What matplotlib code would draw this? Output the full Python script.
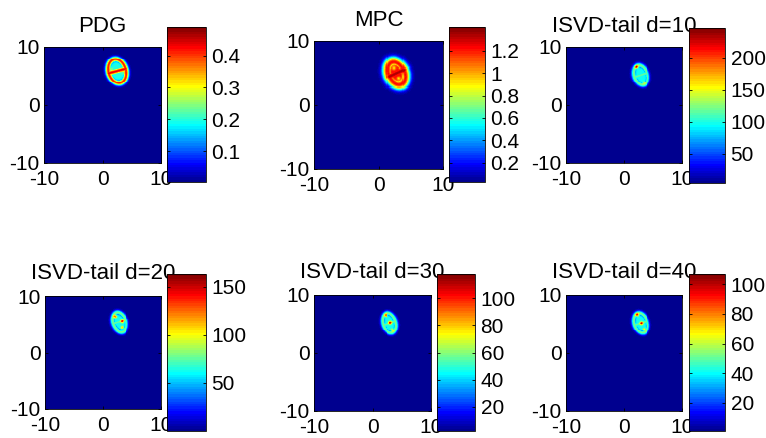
import matplotlib
matplotlib.use("Agg")
import matplotlib.pyplot as plt
import numpy as np
from matplotlib.colors import ListedColormap

plt.rcParams["font.family"] = ["Liberation Sans", "DejaVu Sans"]
plt.rcParams["font.size"] = 15
plt.rcParams["axes.unicode_minus"] = False

# ---- values ----
titles = ["PDG", "MPC", "ISVD-tail d=10", "ISVD-tail d=20", "ISVD-tail d=30", "ISVD-tail d=40"]
c_min = [0.003, 0.03, 4, 0, 2, 1]
c_max = [0.49, 1.41, 247, 163, 118, 107]
cbar_ticks = [
    [0.1, 0.2, 0.3, 0.4],
    [0.2, 0.4, 0.6, 0.8, 1.0, 1.2],
    [50, 100, 150, 200],
    [50, 100, 150],
    [20, 40, 60, 80, 100],
    [20, 40, 60, 80, 100],
]
cbar_labels = [
    ["0.1", "0.2", "0.3", "0.4"],
    ["0.2", "0.4", "0.6", "0.8", "1", "1.2"],
    ["50", "100", "150", "200"],
    ["50", "100", "150"],
    ["20", "40", "60", "80", "100"],
    ["20", "40", "60", "80", "100"],
]
axis_ticks = [-10, 0, 10]

# "8"-shaped blob of each panel: oval ring + middle bar + filled holes + hot/cold spots
# (lengths in data units, tilt in degrees (top leaning left), levels as fraction of colour range)
blob_x = [2.45, 2.8, 2.9, 2.85, 2.9, 2.9]
blob_y = [5.9, 5.0, 5.2, 5.3, 5.2, 5.2]
blob_a = [1.45, 1.25, 1.1, 1.1, 1.1, 1.1]
blob_b = [2.1, 1.9, 1.75, 1.75, 1.75, 1.75]
blob_tilt = [15, 25, 18, 18, 18, 18]
ring_w = [0.34, 0.58, 0.32, 0.3, 0.3, 0.3]
ring_level = [0.84, 0.86, 0.48, 0.48, 0.48, 0.48]
bar_level = [0.88, 0.95, 0.46, 0.46, 0.46, 0.46]
hole_level = [0.4, 0.86, 0.38, 0.38, 0.38, 0.38]
spot_x = [[1.5, 3.5], [2.42, 3.18], [2.2, 3.4], [2.1, 3.3, 3.3], [2.3, 3.1, 3.5], [2.3, 3.0, 3.5]]
spot_y = [[6.2, 5.6], [5.82, 4.18], [6.6, 3.9], [6.3, 5.4, 4.3], [6.5, 5.3, 4.0], [6.6, 5.2, 4.1]]
spot_level = [[0.12, 0.12], [-0.2, -0.22], [0.5, 0.2], [0.48, 0.48, 0.3], [0.48, 0.5, 0.3],
              [0.5, 0.48, 0.3]]

# ---- layout, pixel boxes (left, top, right, bottom) ----
W, H = 766, 438
ax_boxes = [(44, 47, 161, 163), (314, 41, 443, 169), (566, 47, 682, 163),
            (45, 296, 161, 409), (314, 295, 431, 411), (566, 295, 682, 411)]
cb_boxes = [(167, 27, 206, 182), (449, 27, 485, 182), (689, 28, 725, 183),
            (167, 274, 206, 431), (437, 274, 475, 431), (689, 274, 725, 431)]
title_pad = [10.8, 10.8, 10.8, 12.5, 12.5, 12.5]


def matlab_jet(m=64):
    n = int(np.ceil(m / 4))
    u = np.concatenate([np.arange(1, n + 1) / n, np.ones(n - 1), np.arange(n, 0, -1) / n])
    g = int(np.ceil(n / 2)) - (m % 4 == 1) + np.arange(1, len(u) + 1)
    r = g + n
    b = g - n
    J = np.zeros((m, 3))
    J[r[r <= m] - 1, 0] = u[r <= m]
    J[g[g <= m] - 1, 1] = u[g <= m]
    J[b[b >= 1] - 1, 2] = u[b >= 1]
    return ListedColormap(J)


def to_fig(box):
    l, t, r, b = box
    return [l / W, (H - b) / H, (r - l) / W, (b - t) / H]


grid = np.linspace(-10, 10, 121)
X, Y = np.meshgrid(grid, grid)


def panel_field(i):
    th = np.deg2rad(blob_tilt[i])
    dx, dy = X - blob_x[i], Y - blob_y[i]
    u = dx * np.cos(th) + dy * np.sin(th)
    v = -dx * np.sin(th) + dy * np.cos(th)
    a, b, w = blob_a[i], blob_b[i], ring_w[i]
    rho = np.sqrt((u / a) ** 2 + (v / b) ** 2) + 1e-9
    dist = np.hypot(u, v) * (1 - 1 / rho)
    ring = ring_level[i] * np.exp(-dist ** 2 / (2 * w ** 2))
    over = np.maximum(np.abs(u) - a, 0)
    bar = bar_level[i] * np.exp(-(v ** 2 + over ** 2) / (2 * w ** 2))
    hole = hole_level[i] / (1 + np.exp((rho - 0.85) / 0.08))
    z = np.maximum(np.maximum(ring, bar), hole)
    for sx, sy, sp in zip(spot_x[i], spot_y[i], spot_level[i]):
        z = z + sp * np.exp(-((X - sx) ** 2 + (Y - sy) ** 2) / (2 * 0.2 ** 2))
    z = np.clip(z, 0, 1)
    return c_min[i] + z * (c_max[i] - c_min[i])


cmap = matlab_jet(64)
fig = plt.figure(figsize=(W / 100, H / 100), dpi=100)

for i in range(6):
    ax = fig.add_axes(to_fig(ax_boxes[i]))
    im = ax.imshow(panel_field(i), extent=[-10, 10, -10, 10], origin="lower",
                   cmap=cmap, vmin=c_min[i], vmax=c_max[i],
                   interpolation="nearest", aspect="auto")
    ax.set_xticks(axis_ticks)
    ax.set_yticks(axis_ticks)
    ax.tick_params(direction="in", length=2, width=0.6, top=True, right=True)
    ax.tick_params(axis="x", pad=5)
    ax.tick_params(axis="y", pad=3)
    for s in ax.spines.values():
        s.set_linewidth(0.6)
    ax.set_title(titles[i], pad=title_pad[i], fontsize=16)

    cax = fig.add_axes(to_fig(cb_boxes[i]))
    cb = fig.colorbar(im, cax=cax)
    cb.set_ticks(cbar_ticks[i])
    cb.set_ticklabels(cbar_labels[i])
    cb.outline.set_linewidth(0.6)
    cax.tick_params(direction="in", length=2.5, width=0.6, left=True, right=True,
                    labelleft=False, labelright=True, pad=4)

fig.savefig("out.png", dpi=100)
